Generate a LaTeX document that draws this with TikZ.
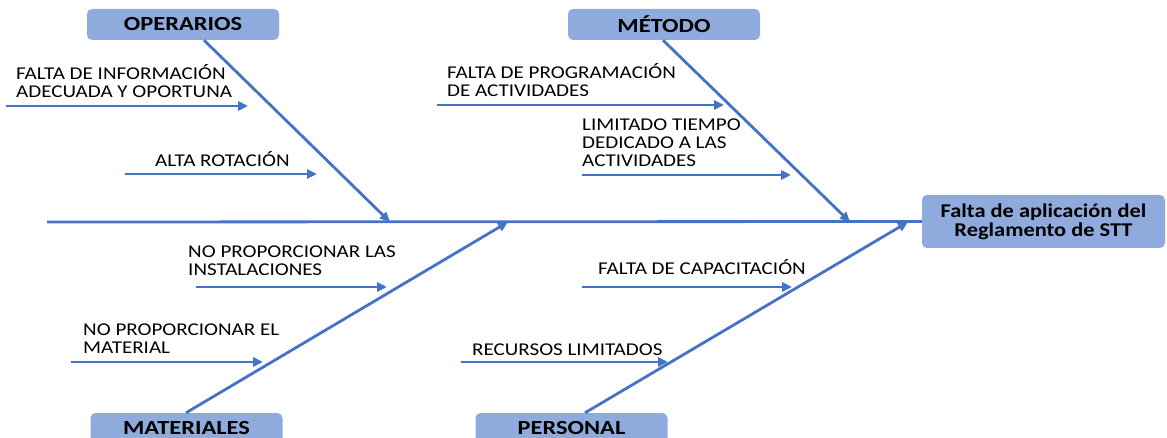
\documentclass[tikz,border=0pt]{standalone}
\usepackage{fontspec}
\setmainfont{Carlito}
\newfontfamily\etiqfont[FakeStretch=1.17]{Carlito}
\newfontfamily\cajafont[FakeStretch=1.22]{Carlito}
\newfontfamily\efectofont[FakeStretch=1.15]{Carlito}
\usepackage{tikz}
\usetikzlibrary{arrows.meta}
\definecolor{azul}{HTML}{4472C4}
\definecolor{cajazul}{HTML}{8FAADC}

\begin{document}
\begin{tikzpicture}[x=1pt, y=-1pt,
            causa/.style = {shape=rectangle, rounded corners=5pt, fill=cajazul,
                            minimum width=192pt, minimum height=31pt, inner sep=0pt,
                            font=\cajafont\bfseries\fontsize{20}{22}\selectfont},
            efecto/.style = {causa, minimum width=243pt, minimum height=53pt,
                             align=center, font=\efectofont\bfseries\fontsize{19.5}{19}\selectfont},
            etiqueta/.style = {anchor=base west, align=left, inner sep=0pt,
                               font=\etiqfont\fontsize{18}{18}\selectfont},
            espina/.style = {draw=azul, line width=2.8pt},
            flecha/.style = {espina, -{Triangle[length=10pt,width=9pt]}}]
        \useasboundingbox (0,0) rectangle (1167,438);
        \node[efecto] (efecto) at (1043.5,221.5) {Falta de aplicaci\'on del\\Reglamento de STT};
        \node[causa] (operarios) at (183,24.5) {OPERARIOS};
        \node[causa] (metodo) at (664,24.5) {M\'ETODO};
        \node[causa] (materiales) at (186.5,428.5) {MATERIALES};
        \node[causa] (personal) at (571.5,428.5) {PERSONAL};
        \coordinate (inicio) at (47,222);
        \coordinate (pOper) at (390,222);
        \coordinate (pMet) at (850,222);
        \coordinate (pMat) at (508,222);
        \coordinate (pPers) at (908,222);
        \draw[espina] (inicio) -- (efecto.west);
        \draw[flecha] ([xshift=21pt]operarios.south) -- (pOper);
        \draw[flecha] ([xshift=-1pt]metodo.south) -- (pMet);
        \draw[flecha] ([xshift=-0.5pt]materiales.north) -- (pMat);
        \draw[flecha] ([xshift=13.5pt]personal.north) -- (pPers);
        \node[etiqueta] (informacion) at (16,98) {FALTA DE INFORMACI\'ON\\ADECUADA Y OPORTUNA};
        \node[etiqueta] (rotacion) at (155,167) {ALTA ROTACI\'ON};
        \node[etiqueta] (programacion) at (447,97) {FALTA DE PROGRAMACI\'ON\\DE ACTIVIDADES};
        \node[etiqueta] (tiempo) at (582,167) {LIMITADO TIEMPO\\DEDICADO A LAS\\ACTIVIDADES};
        \node[etiqueta] (instalaciones) at (188,276) {NO PROPORCIONAR LAS\\INSTALACIONES};
        \node[etiqueta] (capacitacion) at (598,275) {FALTA DE CAPACITACI\'ON};
        \node[etiqueta] (material) at (83,353) {NO PROPORCIONAR EL\\MATERIAL};
        \node[etiqueta] (recursos) at (472,355) {RECURSOS LIMITADOS};
        \coordinate (a1) at (6,106);   \coordinate (b1) at (248,106);
        \coordinate (a2) at (125,174); \coordinate (b2) at (317,174);
        \coordinate (a3) at (437,105); \coordinate (b3) at (724,105);
        \coordinate (a4) at (582,175); \coordinate (b4) at (791,175);
        \coordinate (a5) at (196,287); \coordinate (b5) at (387,287);
        \coordinate (a6) at (582,287); \coordinate (b6) at (792,287);
        \coordinate (a7) at (71,362);  \coordinate (b7) at (263,362);
        \coordinate (a8) at (461,362); \coordinate (b8) at (668,362);
        \draw[flecha] (a1) -- (b1);
        \draw[flecha] (a2) -- (b2);
        \draw[flecha] (a3) -- (b3);
        \draw[flecha] (a4) -- (b4);
        \draw[flecha] (a5) -- (b5);
        \draw[flecha] (a6) -- (b6);
        \draw[flecha] (a7) -- (b7);
        \draw[flecha] (a8) -- (b8);
\end{tikzpicture}
\end{document}
